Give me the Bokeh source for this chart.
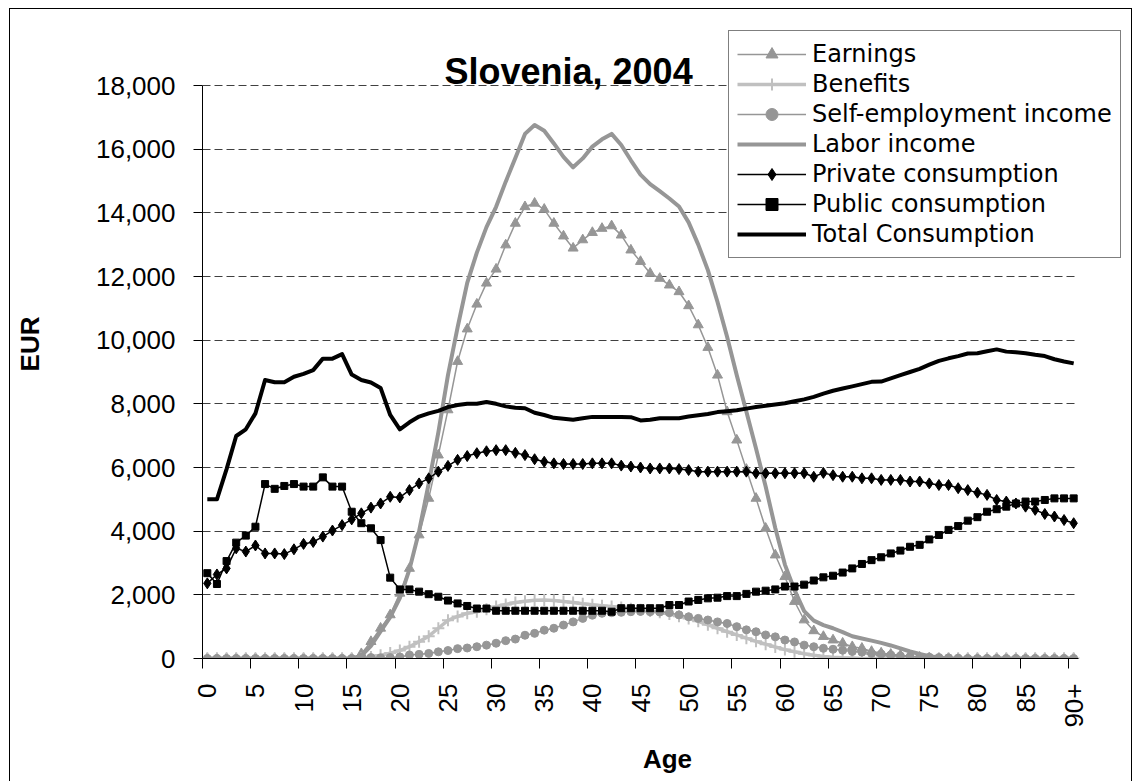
from math import pi
from bokeh.plotting import figure
from bokeh.models import (Range1d, FixedTicker, NumeralTickFormatter, Legend, LegendItem,
                          ColumnDataSource, Label)
from bokeh.embed import file_html
from bokeh.resources import INLINE

# ---------------- data ----------------
ages = list(range(91))
age_labels = [str(a) for a in range(90)] + ["90+"]

earnings = [0, 0, 0, 0, 0, 0, 0, 0, 0, 0, 0, 0, 0, 0, 0, 0,
            150, 530, 950, 1370, 2050, 2830, 3880, 5030, 6390, 7810,
            9330, 10350, 11130, 11790, 12230, 12990, 13670, 14190, 14300, 14110,
            13670, 13270, 12890, 13150, 13380, 13510, 13590, 13300, 12830, 12470,
            12100, 11940, 11730, 11520, 11080, 10480, 9770, 8900, 7750, 6860,
            5940, 5030, 4090, 3250, 2570, 1790, 1210, 870, 690, 580,
            480, 370, 320, 220, 170, 130, 100, 70, 40, 20,
            0, 0, 0, 0, 0, 0, 0, 0, 0, 0, 0, 0, 0, 0, 0]

benefits = [0, 0, 0, 0, 0, 0, 0, 0, 0, 0, 0, 0, 0, 0, 0, 0, 0,
            50, 100, 170, 250, 370, 530, 700, 950, 1200,
            1320, 1420, 1470, 1550, 1630, 1700, 1760, 1800, 1830, 1840,
            1820, 1790, 1760, 1720, 1690, 1660, 1630, 1600, 1560, 1530,
            1490, 1450, 1400, 1330, 1260, 1170, 1060, 950, 840, 740,
            640, 540, 450, 360, 280, 210, 150, 100, 60, 40, 25, 15,
            0, 0, 0, 0, 0, 0, 0, 0, 0, 0, 0, 0, 0, 0, 0, 0, 0, 0, 0, 0, 0, 0, 0]

self_employment = [0, 0, 0, 0, 0, 0, 0, 0, 0, 0, 0, 0, 0, 0, 0, 0,
                   40, 30, 20, 30, 50, 110, 130, 160, 210, 250,
                   310, 330, 370, 420, 480, 560, 610, 730, 790, 890,
                   950, 1050, 1150, 1260, 1360, 1420, 1440, 1450, 1470, 1480,
                   1470, 1460, 1440, 1370, 1310, 1260, 1210, 1150, 1100, 1000,
                   900, 840, 740, 680, 580, 520, 420, 370, 320, 290,
                   260, 220, 200, 160, 140, 110, 80, 60, 50, 40, 30, 20, 10,
                   0, 0, 0, 0, 0, 0, 0, 0, 0, 0, 0, 0]

labor_income = [0, 0, 0, 0, 0, 0, 0, 0, 0, 0, 0, 0, 0, 0, 0, 0,
                80, 400, 850, 1300, 1900, 2800, 4000, 5500, 7100, 8900,
                10400, 11800, 12750, 13550, 14190, 14980, 15720, 16480, 16760, 16580,
                16180, 15760, 15430, 15710, 16080, 16310, 16480, 16130, 15650, 15200,
                14900, 14680, 14450, 14200, 13700, 13000, 12200, 11200, 10100, 8900,
                7750, 6600, 5400, 4100, 2950, 2150, 1490, 1190, 1050, 950,
                830, 700, 630, 560, 490, 410, 320, 220, 140, 70, 30,
                0, 0, 0, 0, 0, 0, 0, 0, 0, 0, 0, 0, 0, 0]

private_consumption = [2360, 2640, 2830, 3460, 3360, 3550, 3300, 3300, 3280, 3430,
                       3600, 3660, 3830, 4020, 4190, 4370, 4560, 4740, 4870, 5080,
                       5060, 5290, 5500, 5660, 5870, 6050, 6240, 6360, 6450, 6510,
                       6545, 6545, 6460, 6390, 6260, 6180, 6130, 6110, 6110, 6110,
                       6130, 6130, 6130, 6060, 6030, 6000, 5970, 5970, 5970, 5950,
                       5920, 5870, 5870, 5870, 5870, 5870, 5870, 5820, 5820, 5820,
                       5820, 5820, 5820, 5710, 5830, 5760, 5710, 5710, 5660, 5660,
                       5610, 5610, 5610, 5560, 5560, 5500, 5450, 5450, 5350, 5290,
                       5210, 5140, 4980, 4930, 4870, 4770, 4670, 4540, 4460, 4350, 4250]

public_consumption = [2680, 2340, 3060, 3640, 3860, 4140, 5480, 5330, 5420, 5480,
                      5400, 5400, 5690, 5400, 5400, 4610, 4250, 4090, 3720, 2540,
                      2170, 2170, 2100, 2020, 1940, 1820, 1730, 1650, 1570, 1570,
                      1500, 1500, 1500, 1500, 1500, 1500, 1500, 1500, 1500, 1500,
                      1500, 1500, 1470, 1580, 1580, 1580, 1580, 1580, 1680, 1680,
                      1790, 1840, 1890, 1910, 1960, 1960, 2030, 2100, 2130, 2170,
                      2260, 2260, 2320, 2450, 2550, 2600, 2700, 2830, 2970, 3090,
                      3180, 3300, 3390, 3510, 3570, 3740, 3880, 4040, 4160, 4330,
                      4440, 4610, 4690, 4770, 4870, 4930, 4930, 4980, 5030, 5030, 5030]

total_consumption = [5000, 5000, 5950, 6990, 7200, 7700, 8750, 8680, 8680, 8850,
                     8940, 9060, 9420, 9420, 9560, 8920, 8750, 8670, 8500, 7650,
                     7200, 7420, 7600, 7700, 7780, 7900, 7960, 8000, 8000, 8060,
                     8000, 7920, 7880, 7860, 7720, 7650, 7560, 7530, 7500, 7550,
                     7590, 7590, 7590, 7590, 7580, 7480, 7500, 7550, 7550, 7550,
                     7600, 7640, 7680, 7740, 7770, 7800, 7850, 7900, 7940, 7980,
                     8020, 8080, 8140, 8220, 8320, 8410, 8480, 8550, 8620, 8690,
                     8700, 8800, 8900, 9000, 9100, 9230, 9350, 9430, 9500, 9580,
                     9590, 9650, 9710, 9640, 9620, 9590, 9540, 9500, 9400, 9330, 9270]

y_ticks = [0, 2000, 4000, 6000, 8000, 10000, 12000, 14000, 16000, 18000]
title_text = "Slovenia, 2004"

# ---------------- layout constants (canvas pixels) ----------------
W, H = 1123, 773
F_LEFT, F_RIGHT, F_TOP, F_BOTTOM = 192, 1122, 20, 649   # frame box
X0_PX, X1_PX = 192, 1068          # where -0.5 and 90.5 sit
Y0_PX, Y1_PX = 649, 76            # where 0 and 18000 sit
px_x = (X1_PX - X0_PX) / 91.0
px_y = (Y0_PX - Y1_PX) / 18000.0
x_end = 90.5 + (F_RIGHT - X1_PX) / px_x
y_end = 18000 + (Y1_PX - F_TOP) / px_y

src = ColumnDataSource(dict(age=ages, earn=earnings, ben=benefits, selfemp=self_employment,
                            labor=labor_income, priv=private_consumption,
                            pub=public_consumption, tot=total_consumption))

p = figure(width=W, height=H, x_range=Range1d(-0.5, x_end), y_range=Range1d(0, y_end),
           output_backend="svg", toolbar_location=None, title=None,
           min_border_left=F_LEFT, min_border_right=W - F_RIGHT,
           min_border_top=F_TOP, min_border_bottom=H - F_BOTTOM)
p.styles = {"margin-left": "9px", "margin-top": "8px",
            "border-left": "1px solid black", "border-top": "1px solid black",
            "border-right": "1px solid black"}
p.outline_line_color = None
p.background_fill_color = "white"
p.border_fill_color = "white"

LG = "#969696"
LLG = "#c0c0c0"

r_earn_l = p.line("age", "earn", source=src, line_color=LG, line_width=1.5)
r_earn_m = p.scatter("age", "earn", source=src, marker="triangle", size=10,
                     fill_color=LG, line_color=LG)
r_ben_l = p.line("age", "ben", source=src, line_color=LLG, line_width=3.5)
r_ben_m = p.scatter("age", "ben", source=src, marker="cross", size=12,
                    line_color=LLG, line_width=2)
r_se_l = p.line("age", "selfemp", source=src, line_color=LG, line_width=1.5)
r_se_m = p.scatter("age", "selfemp", source=src, marker="circle", size=8,
                   fill_color=LG, line_color=LG)
r_lab = p.line("age", "labor", source=src, line_color=LG, line_width=4, line_join="round")
r_priv_l = p.line("age", "priv", source=src, line_color="black", line_width=1.5)
r_priv_m = p.scatter("age", "priv", source=src, marker="diamond", size=11,
                     fill_color="black", line_color="black")
r_pub_l = p.line("age", "pub", source=src, line_color="black", line_width=1.5)
r_pub_m = p.scatter("age", "pub", source=src, marker="square", size=7,
                    fill_color="black", line_color="black")
r_tot = p.line("age", "tot", source=src, line_color="black", line_width=4, line_join="round")

# ---------------- axes ----------------
xt = list(range(0, 91, 5))
p.xaxis.ticker = FixedTicker(ticks=xt, minor_ticks=[t - 0.5 for t in xt])
p.xaxis.major_label_overrides = {t: age_labels[t] for t in xt}
p.xaxis.major_label_orientation = pi / 2
p.xaxis.bounds = (-0.5, 90.5)
p.xaxis.major_tick_out = 0
p.xaxis.major_tick_in = 0
p.xaxis.minor_tick_out = 10
p.xaxis.minor_tick_in = 0
p.xaxis.minor_tick_line_color = "black"
p.xaxis.major_label_standoff = 15
p.xaxis.axis_label = "Age"
p.xaxis.axis_label_standoff = 13

p.yaxis.ticker = FixedTicker(ticks=y_ticks, minor_ticks=[])
p.yaxis.formatter = NumeralTickFormatter(format="0,0")
p.yaxis.bounds = (0, 18000)
p.yaxis.major_tick_out = 9
p.yaxis.major_tick_in = 0
p.yaxis.major_label_standoff = 18
p.yaxis.axis_label = "EUR"
p.yaxis.axis_label_standoff = 48

for ax in (p.xaxis, p.yaxis):
    ax.axis_line_color = "black"
    ax.axis_line_width = 1
    ax.major_tick_line_color = "black"
    ax.major_label_text_font = "Liberation Sans"
    ax.major_label_text_font_size = "26px"
    ax.major_label_text_color = "black"
    ax.axis_label_text_font = "Liberation Sans"
    ax.axis_label_text_font_size = "26px"
    ax.axis_label_text_font_style = "bold"
    ax.axis_label_text_color = "black"

p.xgrid.grid_line_color = None
yg = p.ygrid[0]
yg.ticker = FixedTicker(ticks=y_ticks)
yg.grid_line_color = "#404040"
yg.grid_line_dash = "8 4"
yg.grid_line_width = 1
if "cross_bounds" in yg.properties():
    yg.cross_bounds = (-0.5, 90.5)
else:
    yg.grid_line_color = None
    p.segment(x0=-0.5, x1=90.5, y0=y_ticks, y1=y_ticks, line_color="#404040",
              line_dash="8 4", line_width=1, level="underlay")

# ---------------- title (inside the frame so the legend can overlap it) ----------------
title_left_px, title_base_px = 434, 62
p.add_layout(Label(x=-0.5 + (title_left_px - X0_PX) / px_x,
                   y=(Y0_PX - title_base_px) / px_y,
                   text=title_text, text_align="left", text_baseline="alphabetic",
                   text_font="Liberation Sans", text_font_size="36px",
                   text_font_style="bold", text_color="black"))

# ---------------- legend ----------------
legend = Legend(items=[
    LegendItem(label="Earnings", renderers=[r_earn_l, r_earn_m]),
    LegendItem(label="Benefits", renderers=[r_ben_l, r_ben_m]),
    LegendItem(label="Self-employment income", renderers=[r_se_l, r_se_m]),
    LegendItem(label="Labor income", renderers=[r_lab]),
    LegendItem(label="Private consumption", renderers=[r_priv_l, r_priv_m]),
    LegendItem(label="Public consumption", renderers=[r_pub_l, r_pub_m]),
    LegendItem(label="Total Consumption", renderers=[r_tot]),
], location=(718 - F_LEFT, F_BOTTOM - 249))
legend.margin = 0
legend.padding = 8
legend.spacing = 0
legend.glyph_width = 69
legend.glyph_height = 30
legend.label_height = 30
legend.label_standoff = 6
legend.label_text_font = "DejaVu Sans"
legend.label_text_font_size = "24px"
legend.label_text_color = "black"
legend.border_line_color = "black"
legend.border_line_width = 1
legend.background_fill_color = "white"
legend.background_fill_alpha = 1
p.add_layout(legend)

open("out.html", "w").write(file_html(p, INLINE))
